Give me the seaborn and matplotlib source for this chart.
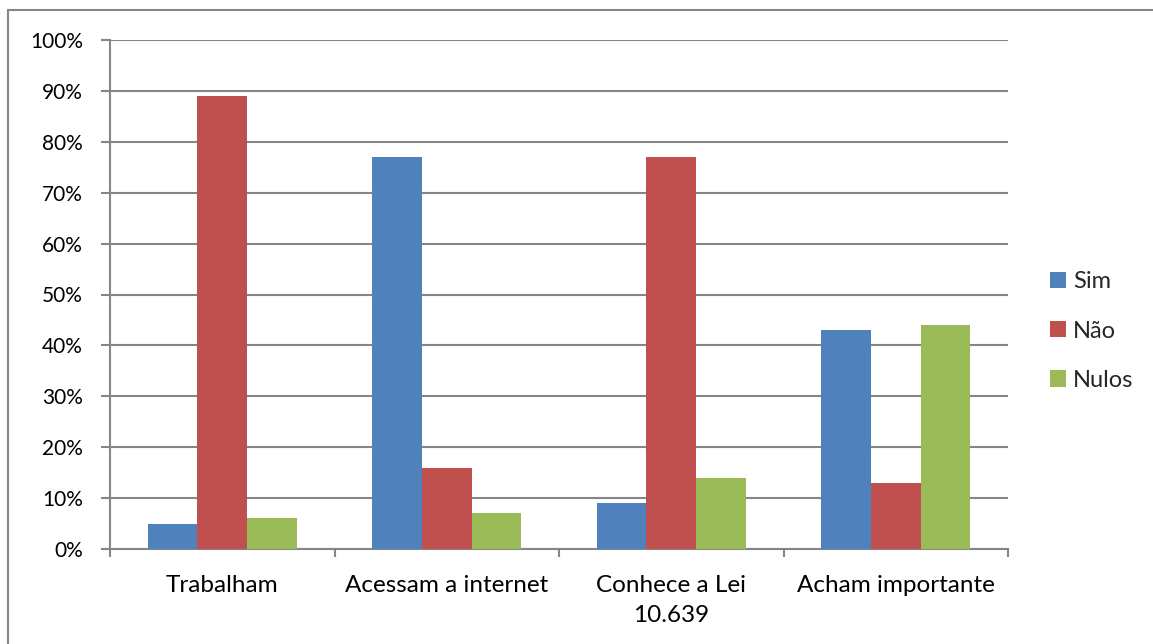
import matplotlib
matplotlib.use("Agg")
import matplotlib.pyplot as plt
import seaborn as sns
import pandas as pd
from matplotlib.lines import Line2D
from matplotlib.ticker import FuncFormatter, MultipleLocator

categories = ["Trabalham", "Acessam a internet", "Conhece a Lei\n10.639", "Acham importante"]
series = ["Sim", "Não", "Nulos"]
sim = [5, 77, 9, 43]
nao = [89, 16, 77, 13]
nulos = [6, 7, 14, 44]
colors = ["#4F81BD", "#C0504D", "#9BBB59"]

rows = []
for s, vals in zip(series, [sim, nao, nulos]):
    for c, v in zip(categories, vals):
        rows.append({"cat": c, "serie": s, "val": v})
df = pd.DataFrame(rows)

sns.set_theme(style="white")
plt.rcParams["font.family"] = ["Lato", "DejaVu Sans"]

W, H = 1153, 644
fig = plt.figure(figsize=(W / 100, H / 100), dpi=100)
ax = fig.add_axes([110 / W, 1 - 549 / H, (1008 - 110) / W, (549 - 40) / H])

sns.barplot(data=df, x="cat", y="val", hue="serie", palette=colors, ax=ax,
            width=0.665, gap=0, saturation=1, edgecolor="none", zorder=3)

grid_c = "#868686"
ax.set_ylim(0, 100)
ax.set_xlim(-0.5, len(categories) - 0.5)
ax.yaxis.set_major_locator(MultipleLocator(10))
ax.yaxis.set_major_formatter(FuncFormatter(lambda v, p: f"{int(v)}%"))
ax.grid(axis="y", color=grid_c, linewidth=1.5, zorder=0)
ax.set_axisbelow(True)
ax.set_xlabel("")
ax.set_ylabel("")

for side in ["top", "right"]:
    ax.spines[side].set_visible(False)
for side in ["left", "bottom"]:
    ax.spines[side].set_color(grid_c)
    ax.spines[side].set_linewidth(1.5)

ax.tick_params(axis="y", which="major", left=True, length=6.5, width=1.5, color=grid_c,
               labelsize=15, labelcolor="black", pad=13)
ax.set_xticks(range(len(categories)))
ax.set_xticklabels(categories, fontsize=17.5, color="black", linespacing=1.55)
ax.tick_params(axis="x", which="major", bottom=False, length=0, pad=18.5)
ax.set_xticks([-0.5, 0.5, 1.5, 2.5, 3.5], minor=True)
ax.tick_params(axis="x", which="minor", bottom=True, length=6, width=1.5, color=grid_c)

leg = ax.legend(loc="center left", bbox_to_anchor=(1050 / W, 1 - 331 / H),
                bbox_transform=fig.transFigure, frameon=False, borderpad=0,
                borderaxespad=0, fontsize=17, handlelength=0.68, handleheight=0.68,
                handletextpad=0.3, labelspacing=1.2)

fig.add_artist(Line2D([7.5 / W, 1.0], [1 - 10 / H, 1 - 10 / H], transform=fig.transFigure,
                      color=grid_c, linewidth=1.5))
fig.add_artist(Line2D([7.5 / W, 7.5 / W], [0.0, 1 - 10 / H], transform=fig.transFigure,
                      color=grid_c, linewidth=1.5))

fig.savefig("out.png", dpi=100, facecolor="white")
